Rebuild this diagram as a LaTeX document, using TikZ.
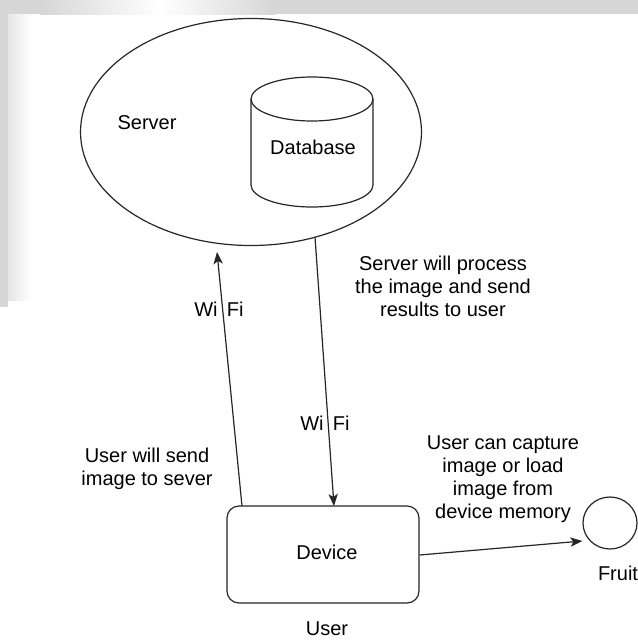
\documentclass[tikz,border=0pt]{standalone}
\usepackage{fontspec}
\setmainfont{Liberation Sans}
\usetikzlibrary{arrows.meta,shapes.geometric}
\definecolor{bggrey}{RGB}{214,214,214}
\tikzset{
  lbl/.style={inner sep=0pt, align=center, font=\fontsize{15}{17.3}\selectfont},
  conn/.style={line width=0.9pt, draw=black!85},
  arr/.style={conn, -{Stealth[length=9pt,width=7pt,inset=2.2pt]}},
  shp/.style={line width=0.9pt, draw=black!85}
}
\begin{document}
\begin{tikzpicture}[x=0.75pt,y=-0.75pt]
\useasboundingbox (0,0) rectangle (638,640);
% background strips
\fill[white] (0,0) rectangle (638,640);
\fill[bggrey] (0,0) rectangle (638,14);
\shade[left color=bggrey, right color=white] (40,0) rectangle (160,14);
\shade[left color=white, right color=bggrey] (160,0) rectangle (275,14);
\fill[bggrey] (0,0) rectangle (8,307);
\shade[left color=bggrey!60, right color=white] (8,14) rectangle (32,300);

% server ellipse
\node[shp, ellipse, minimum width=255.75pt, minimum height=170.25pt, inner sep=0pt] (server) at (251,132) {};
\node[lbl] (servert) at (147,123) {Server};

% database cylinder
\draw[shp] (251,99) -- (251,185) arc[start angle=180, end angle=0, x radius=61, y radius=22] -- (373,99);
\draw[shp] (312,99) ellipse[x radius=61, y radius=22];
\node[lbl] (db) at (313,147) {Database};

% device
\node[shp, rectangle, rounded corners=9pt, minimum width=144pt, minimum height=72.75pt, inner sep=0pt] (dev) at (323,554.5) {};
\node[lbl] (devt) at (327,552) {Device};
\node[lbl] (user) at (327,629) {User};

% fruit
\node[shp, ellipse, minimum width=40.5pt, minimum height=39pt, inner sep=0pt] (fruit) at (610,523) {};
\node[lbl] (fruitt) at (618,573) {Fruit};

% connector end points
\coordinate (upS) at (242,506);
\coordinate (upE) at (217,252);
\coordinate (dnS) at (315,237);
\coordinate (dnE) at (334,506);

\draw[arr] (upS) -- (upE);
\draw[arr] (dnS) -- (dnE);
\draw[arr] (dev.east |- 0,555) -- (fruit.west |- 0,541);

% labels
\node[lbl] (wifi1) at (219,309) {Wi\hspace{7pt}Fi};
\node[lbl] (wifi2) at (325,423) {Wi\hspace{7pt}Fi};
\node[lbl] (srvmsg) at (443,286) {Server will process\\the image and send\\results to user};
\node[lbl] (usrmsg) at (147,469) {User will send\\image to sever};
\node[lbl] (capmsg) at (503,479) {User can capture\\image or load\\image from\\device memory};
\end{tikzpicture}
\end{document}
